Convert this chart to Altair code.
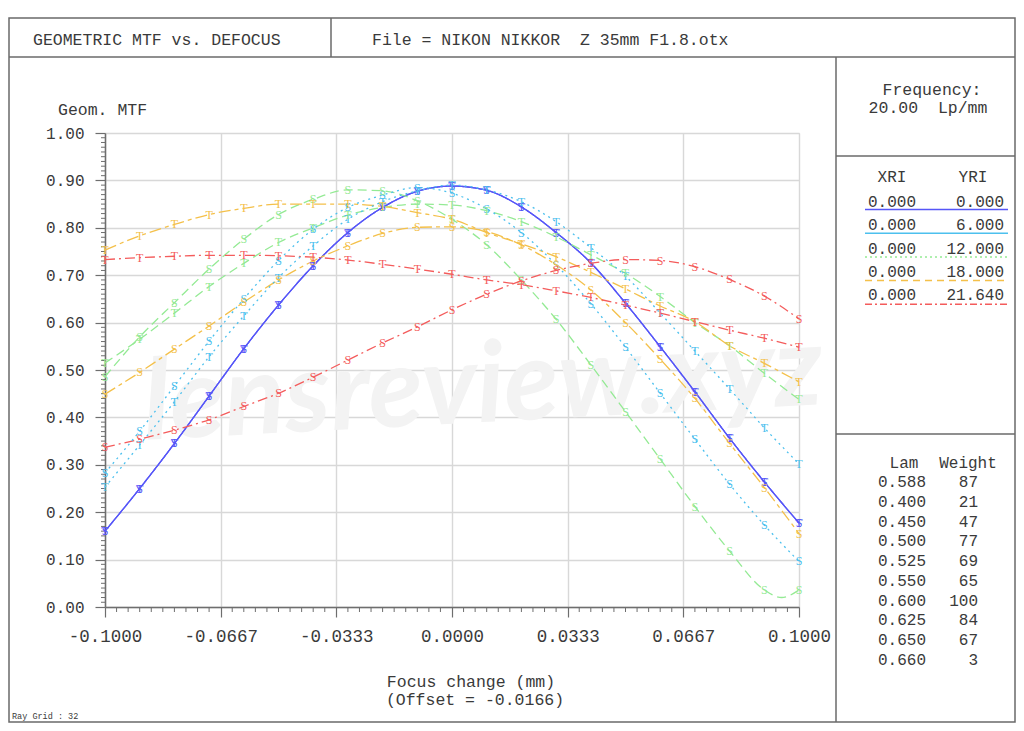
import altair as alt
import pandas as pd

# ---------------- data ----------------
focus = [-0.10, -0.09, -0.08, -0.07, -0.06, -0.05, -0.04, -0.03, -0.02, -0.01, 0.00,
         0.01, 0.02, 0.03, 0.04, 0.05, 0.06, 0.07, 0.08, 0.09, 0.10]

fields = ["0.000", "6.000", "12.000", "18.000", "21.640"]
xri = ["0.000", "0.000", "0.000", "0.000", "0.000"]

blue_S = [0.160, 0.250, 0.345, 0.445, 0.545, 0.637, 0.720, 0.790, 0.843, 0.877, 0.888,
          0.879, 0.844, 0.790, 0.726, 0.641, 0.549, 0.454, 0.356, 0.264, 0.177]
blue_T = [0.160, 0.250, 0.345, 0.445, 0.545, 0.637, 0.720, 0.790, 0.843, 0.877, 0.888,
          0.879, 0.844, 0.790, 0.726, 0.641, 0.549, 0.454, 0.356, 0.264, 0.177]
cyan_S = [0.283, 0.371, 0.466, 0.561, 0.650, 0.731, 0.797, 0.843, 0.869, 0.885, 0.873,
          0.840, 0.790, 0.722, 0.640, 0.548, 0.451, 0.354, 0.259, 0.173, 0.096]
cyan_T = [0.253, 0.342, 0.433, 0.528, 0.614, 0.695, 0.762, 0.818, 0.855, 0.878, 0.890,
          0.880, 0.855, 0.813, 0.758, 0.698, 0.620, 0.540, 0.460, 0.378, 0.302]
green_S = [0.486, 0.570, 0.642, 0.713, 0.776, 0.828, 0.860, 0.880, 0.878, 0.857, 0.818,
           0.764, 0.690, 0.607, 0.511, 0.412, 0.312, 0.212, 0.118, 0.036, 0.036]
green_S_min = (0.095, 0.020)   # the dip between the last two markers
green_T = [0.515, 0.565, 0.620, 0.676, 0.725, 0.769, 0.800, 0.827, 0.843, 0.850, 0.848,
           0.836, 0.813, 0.781, 0.743, 0.704, 0.655, 0.600, 0.551, 0.493, 0.438]
yellow_S = [0.449, 0.495, 0.544, 0.593, 0.643, 0.690, 0.730, 0.762, 0.788, 0.801, 0.802,
            0.792, 0.764, 0.722, 0.669, 0.600, 0.523, 0.440, 0.345, 0.252, 0.155]
yellow_T = [0.753, 0.783, 0.807, 0.828, 0.841, 0.850, 0.850, 0.850, 0.845, 0.832, 0.818,
            0.790, 0.766, 0.739, 0.706, 0.671, 0.635, 0.602, 0.551, 0.514, 0.475]
red_S = [0.337, 0.354, 0.373, 0.395, 0.423, 0.451, 0.485, 0.521, 0.557, 0.591, 0.627,
         0.660, 0.688, 0.710, 0.725, 0.733, 0.731, 0.718, 0.691, 0.656, 0.608]
red_T = [0.733, 0.737, 0.740, 0.742, 0.742, 0.741, 0.738, 0.732, 0.723, 0.713, 0.702,
         0.690, 0.680, 0.667, 0.653, 0.637, 0.620, 0.602, 0.584, 0.567, 0.548]

lam = ["0.588", "0.400", "0.450", "0.500", "0.525", "0.550", "0.600", "0.625", "0.650", "0.660"]
weight = ["87", "21", "47", "77", "69", "65", "100", "84", "67", "3"]

x_ticks = [-0.1, -0.1 + 0.2 / 6, -0.1 + 0.4 / 6, 0.0, 0.2 / 6, 0.4 / 6, 0.1]
y_ticks = [0.0, 0.1, 0.2, 0.3, 0.4, 0.5, 0.6, 0.7, 0.8, 0.9, 1.0]

# ---------------- styles ----------------
colors = ["#5656f8", "#4cc0ee", "#94ea94", "#f4c04a", "#f45c5c"]
plot_dash = [[1, 0], [2, 4], [9, 5], [12, 4, 4, 4], [10, 4, 2, 4]]
legend_dash = [[1, 0], [1, 0], [2, 3], [7, 5], [7, 3, 2, 3]]
MONO = "Liberation Mono"
TXT = "#3a3a3a"
FRAME = "#6a6a6a"

series = {
    "0.000": (blue_S, blue_T),
    "6.000": (cyan_S, cyan_T),
    "12.000": (green_S, green_T),
    "18.000": (yellow_S, yellow_T),
    "21.640": (red_S, red_T),
}

pts = []
lines = []
for f, (s_vals, t_vals) in series.items():
    for kind, vals in (("S", s_vals), ("T", t_vals)):
        for xv, vv in zip(focus, vals):
            pts.append({"x": xv, "v": vv, "field": f, "kind": kind})
            lines.append({"x": xv, "v": vv, "field": f, "curve": f + kind})
        if f == "12.000" and kind == "S":
            lines.append({"x": green_S_min[0], "v": green_S_min[1], "field": f, "curve": f + kind})
df_pts = pd.DataFrame(pts)
df_lines = pd.DataFrame(lines).sort_values(["curve", "x"])

W, H = 694, 474

x_axis = alt.Axis(values=x_ticks, labelExpr="replace(format(datum.value, '.4f'), '\u2212', '-')",
                  tickSize=10, labelPadding=10, labelFontSize=17.5, labelFont=MONO, labelColor=TXT,
                  domainColor="#6e6e6e", domainWidth=1.5, tickColor="#6e6e6e", tickWidth=1.2,
                  gridColor="#d8d8d8", gridWidth=1.4, title=None, labelFlush=False)
y_axis = alt.Axis(values=y_ticks, format=".2f", tickSize=10, labelPadding=11, labelFontSize=16,
                  labelFont=MONO, labelColor=TXT, domainColor="#6e6e6e", domainWidth=1.5,
                  tickColor="#6e6e6e", tickWidth=1.2, gridColor="#d8d8d8", gridWidth=1.4,
                  title=None)
x_scale = alt.Scale(domain=[-0.1, 0.1], nice=False, zero=False)
y_scale = alt.Scale(domain=[0, 1], nice=False, zero=False)

X = alt.X("x:Q", scale=x_scale, axis=x_axis)
Y = alt.Y("v:Q", scale=y_scale, axis=y_axis)
col = alt.Color("field:N", scale=alt.Scale(domain=fields, range=colors), legend=None)

one = pd.DataFrame({"k": [0]})


def text(t, x, y, size=16, align="left", color=TXT, font=MONO, **kw):
    return alt.Chart(one).mark_text(text=t, align=align, baseline="middle", fontSize=size,
                                    font=font, color=color, **kw).encode(
        x=alt.value(x), y=alt.value(y))


def rule(x, y, x2=None, y2=None, color=FRAME, width=1.5, dash=None):
    enc = {"x": alt.value(x), "y": alt.value(y)}
    if x2 is not None:
        enc["x2"] = alt.value(x2)
    if y2 is not None:
        enc["y2"] = alt.value(y2)
    kw = {"color": color, "strokeWidth": width}
    if dash is not None:
        kw["strokeDash"] = dash
    return alt.Chart(one).mark_rule(**kw).encode(**enc)


layers = []

# watermark
layers.append(alt.Chart(one).mark_text(text="lensreview.xyz", font="Lato", fontStyle="italic",
                                       fontWeight="bold", fontSize=112, color="#f3f3f3",
                                       angle=357, align="center", baseline="middle").encode(
    x=alt.value(378), y=alt.value(255)))

# minor ticks
y_minor = [i / 100 for i in range(101) if i % 10 != 0]
x_minor = [-0.1 + j * 0.2 / 60 for j in range(61) if j % 10 != 0]
layers.append(alt.Chart(pd.DataFrame({"v": y_minor})).mark_rule(color="#6e6e6e", strokeWidth=1).encode(
    y=Y, x=alt.value(-4), x2=alt.value(0)))
layers.append(alt.Chart(pd.DataFrame({"x": x_minor})).mark_rule(color="#6e6e6e", strokeWidth=1).encode(
    x=X, y=alt.value(H), y2=alt.value(H + 5)))

# curves
layers.append(alt.Chart(df_lines).mark_line(strokeWidth=1.3, interpolate="monotone").encode(
    x=X, y=Y, color=col,
    strokeDash=alt.StrokeDash("field:N", scale=alt.Scale(domain=fields, range=plot_dash), legend=None),
    detail="curve:N"))
# S / T markers
layers.append(alt.Chart(df_pts).mark_text(fontSize=12, font="Liberation Serif").encode(
    x=X, y=Y, color=col, text="kind:N"))

# frame (kept inside the drawing surface)
layers.append(alt.Chart(one).mark_rect(fillOpacity=0, stroke=FRAME, strokeWidth=1.5).encode(
    x=alt.value(-96), x2=alt.value(910), y=alt.value(-115), y2=alt.value(589)))
layers.append(rule(-96, -76, x2=910))
layers.append(rule(226, -115, y2=-76))
layers.append(rule(731, -76, y2=589))
layers.append(rule(731, 23, x2=910))
layers.append(rule(731, 301, x2=910))

# titles
layers.append(text("GEOMETRIC MTF vs. DEFOCUS", -72, -93, size=16.5))
layers.append(text("File = NIKON NIKKOR\u00a0 Z 35mm F1.8.otx", 267, -93, size=16.5))
layers.append(text("Geom. MTF", -47, -23, size=16.5))
layers.append(text("Focus change (mm)", 366, 549, size=16.5, align="center"))
layers.append(text("(Offset = -0.0166)", 370, 567, size=16.5, align="center"))
layers.append(text("Ray Grid : 32", -93, 583, size=8.5))

# frequency box
layers.append(text("Frequency:", 827, -43, size=16.5, align="center"))
layers.append(text("20.00\u00a0\u00a0Lp/mm", 823, -25, size=16.5, align="center"))

# field legend
layers.append(text("XRI", 787, 44, size=16, align="center"))
layers.append(text("YRI", 868, 44, size=16, align="center"))
for i, f in enumerate(fields):
    ty = 68.7 + 23.4 * i
    ly = 76.5 + 23.7 * i
    layers.append(text(xri[i], 787, ty, size=16, align="center"))
    layers.append(text(f, 899, ty, size=16, align="right"))
    layers.append(rule(760, ly, x2=903, color=colors[i], width=1.5, dash=legend_dash[i]))

# wavelength legend
layers.append(text("Lam", 799, 330, size=16, align="center"))
layers.append(text("Weight", 863, 330, size=16, align="center"))
for i, (l, w) in enumerate(zip(lam, weight)):
    ty = 349 + 19.75 * i
    layers.append(text(l, 797, ty, size=16, align="center"))
    layers.append(text(w, 873, ty, size=16, align="right"))

chart = alt.layer(*layers).properties(
    width=W, height=H,
    padding={"left": 97, "top": 125, "right": 217, "bottom": 116},
    autosize=alt.AutoSizeParams(type="none"),
).configure_view(strokeWidth=0).configure(background="white")

chart.save("out.html", embed_options={"renderer": "svg", "actions": False})
